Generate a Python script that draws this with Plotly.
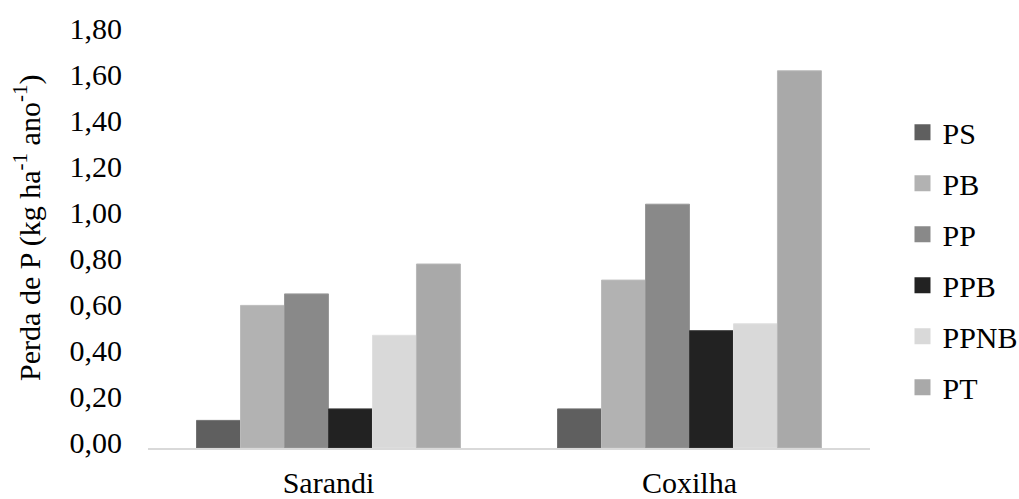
import plotly.graph_objects as go

# Phosphorus loss by site and treatment
sites = ["Sarandi", "Coxilha"]
treatments = ["PS", "PB", "PP", "PPB", "PPNB", "PT"]
ps = [0.12, 0.17]
pb = [0.62, 0.73]
pp = [0.67, 1.06]
ppb = [0.17, 0.51]
ppnb = [0.49, 0.54]
pt = [0.80, 1.64]
y_ticks = [0.0, 0.2, 0.4, 0.6, 0.8, 1.0, 1.2, 1.4, 1.6, 1.8]

series = [ps, pb, pp, ppb, ppnb, pt]
colors = ["#5f5f5f", "#b2b2b2", "#898989", "#222222", "#d9d9d9", "#a9a9a9"]
edges = ["#707070", "#bcbcbc", "#999999", "#383838", "#e0e0e0", "#b8b8b8"]

TXT = dict(family="Liberation Serif", size=30, color="#000000")
TITLE = dict(family="Liberation Serif", size=30, color="#000000")

fig = go.Figure()
for name, vals, c, e in zip(treatments, series, colors, edges):
    fig.add_trace(go.Bar(
        x=sites, y=vals, name=name,
        marker=dict(color=c, line=dict(color=e, width=1)),
        showlegend=False,
    ))
    # legend entry with a larger square swatch
    fig.add_trace(go.Scatter(
        x=[None], y=[None], mode="markers", name=name,
        marker=dict(symbol="square", size=16, color=c),
        legendgroup=name, showlegend=True,
    ))

fig.update_layout(
    width=1019, height=499,
    margin=dict(l=148, r=149, t=34, b=51, autoexpand=False),
    paper_bgcolor="white", plot_bgcolor="white",
    font=TXT,
    separators=", ",
    barmode="group", bargap=0.269, bargroupgap=0,
    showlegend=True,
    legend=dict(
        x=1.045, y=0.455, xanchor="left", yanchor="middle",
        font=TXT,
        tracegroupgap=9, itemwidth=30,
        bgcolor="rgba(0,0,0,0)",
    ),
    xaxis=dict(
        showline=True, linecolor="#d9d9d9", linewidth=2,
        ticks="", showgrid=False, ticklabelstandoff=7,
        tickfont=TXT, automargin=False,
    ),
    yaxis=dict(
        range=[0, 1.8], tickvals=y_ticks, tickformat=".2f",
        showline=False, showgrid=False, zeroline=False, ticks="",
        ticklabelstandoff=25, ticklabelshift=-6,
        tickfont=TXT, automargin=False,
    ),
    annotations=[dict(
        text="Perda de P (kg ha<sup>-1</sup> ano<sup>-1</sup>)",
        xref="paper", yref="paper", x=-0.166, y=0.532,
        xanchor="center", yanchor="middle", textangle=-90,
        showarrow=False, font=TITLE,
    )],
)

fig.write_html("out.html")
